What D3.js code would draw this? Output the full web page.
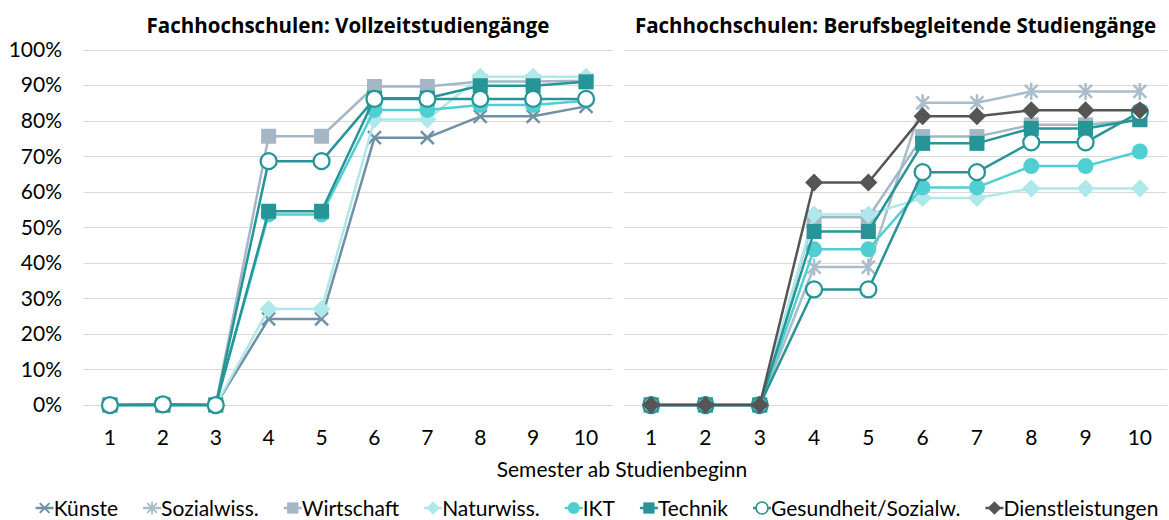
<!DOCTYPE html>
<html>
<head>
<meta charset="utf-8">
<script src="https://d3js.org/d3.v7.min.js"></script>
<style>
	body{ margin:0; background:#fff; }
	text{ font-family: Lato, "Open Sans", sans-serif; fill:#000; }
	.grid line{ stroke:#d9d9d9; stroke-width:1; }
	.title{ font-family: "Open Sans", Lato, sans-serif; font-weight:bold; font-size:20.5px; }
	.tick-label{ font-size:21px; }
</style>
</head>
<body>
<svg id="chart" width="1169" height="520"></svg>
<script>

// categories
var semesters = [1, 2, 3, 4, 5, 6, 7, 8, 9, 10];
var yTicks = [0, 0.1, 0.2, 0.3, 0.4, 0.5, 0.6, 0.7, 0.8, 0.9, 1];

// series (legend order = draw order)
var seriesNames  = ["Künste", "Sozialwiss.", "Wirtschaft", "Naturwiss.", "IKT", "Technik", "Gesundheit/Sozialw.", "Dienstleistungen"];
var seriesColors = ["#7090a6", "#a9bdcb", "#a3b7c7", "#aee8ea", "#4fcfd2", "#279597", "#279597", "#555555"];
var seriesMarks  = ["x", "star", "square", "diamond", "circle", "square", "ocircle", "diamond"];

// Vollzeitstudiengänge (percent)
var kuensteVZ    = [0, 0, 0, 24.2, 24.2, 75.2, 75.2, 81.2, 81.2, 84.0];
var sozialVZ     = null;
var wirtschaftVZ = [0, 0, 0, 75.6, 75.6, 89.6, 89.6, 91.0, 91.0, 91.2];
var naturVZ      = [0, 0, 0, 27.0, 27.0, 80.3, 80.3, 92.3, 92.3, 92.3];
var iktVZ        = [0, 0, 0, 53.6, 53.6, 83.0, 83.0, 84.4, 84.4, 85.6];
var technikVZ    = [0, 0, 0, 54.5, 54.5, 86.3, 86.3, 89.8, 89.8, 90.9];
var gesundVZ     = [0, 0.2, 0, 68.6, 68.6, 86.1, 86.1, 86.1, 86.1, 86.1];
var dienstVZ     = null;

// Berufsbegleitende Studiengänge (percent)
var kuensteBB    = null;
var sozialBB     = [0, 0, 0, 38.8, 38.8, 85.0, 85.0, 88.2, 88.2, 88.2];
var wirtschaftBB = [0, 0, 0, 52.8, 52.8, 75.5, 75.5, 78.8, 78.8, 80.2];
var naturBB      = [0, 0, 0, 53.6, 53.6, 58.2, 58.2, 60.9, 60.9, 60.9];
var iktBB        = [0, 0, 0, 43.8, 43.8, 61.2, 61.2, 67.2, 67.2, 71.3];
var technikBB    = [0, 0, 0, 48.8, 48.8, 73.6, 73.6, 77.8, 77.8, 80.3];
var gesundBB     = [0, 0, 0, 32.5, 32.5, 65.5, 65.5, 73.9, 73.9, 82.4];
var dienstBB     = [0, 0, 0, 62.6, 62.6, 81.2, 81.2, 82.9, 82.9, 82.9];

var panels = [
	{ title: "Fachhochschulen: Vollzeitstudiengänge", x0: 83.5, x1: 612.5, yLabels: true,
	  data: [kuensteVZ, sozialVZ, wirtschaftVZ, naturVZ, iktVZ, technikVZ, gesundVZ, dienstVZ] },
	{ title: "Fachhochschulen: Berufsbegleitende Studiengänge", x0: 624, x1: 1167, yLabels: false,
	  data: [kuensteBB, sozialBB, wirtschaftBB, naturBB, iktBB, technikBB, gesundBB, dienstBB] }
];

var svg = d3.select("#chart");

var y = d3.scaleLinear().domain([0, 1]).range([405, 49.5]);

function drawMarker(g, type, color, cx, cy) {
	var m = g.append("g").attr("transform", "translate(" + cx + "," + cy + ")");
	if (type == "x") {
		m.append("path").attr("d", "M-6.5,-6.5L6.5,6.5M-6.5,6.5L6.5,-6.5")
			.attr("stroke", color).attr("stroke-width", 2.5).attr("fill", "none");
	} else if (type == "star") {
		m.append("path").attr("d", "M-6.5,-6.5L6.5,6.5M-6.5,6.5L6.5,-6.5M0,-8.5L0,8.5")
			.attr("stroke", color).attr("stroke-width", 2.5).attr("fill", "none");
	} else if (type == "square") {
		m.append("rect").attr("x", -7.5).attr("y", -7.5).attr("width", 15).attr("height", 15)
			.attr("fill", color);
	} else if (type == "diamond") {
		m.append("path").attr("d", "M0,-9L9,0L0,9L-9,0Z").attr("fill", color);
	} else if (type == "circle") {
		m.append("circle").attr("r", 8).attr("fill", color);
	} else if (type == "ocircle") {
		m.append("circle").attr("r", 8).attr("fill", "#fff")
			.attr("stroke", color).attr("stroke-width", 2.25);
	}
}

panels.forEach(function(p) {
	var x = d3.scalePoint().domain(semesters).range([p.x0, p.x1]).padding(0.5);
	var g = svg.append("g");

	// gridlines
	g.append("g").attr("class", "grid")
		.selectAll("line").data(yTicks).enter().append("line")
		.attr("x1", p.x0).attr("x2", p.x1)
		.attr("y1", function(d){ return Math.round(y(d)) + 0.5; })
		.attr("y2", function(d){ return Math.round(y(d)) + 0.5; });

	if (p.yLabels) {
		g.selectAll("text.ylab").data(yTicks).enter().append("text")
			.attr("class", "tick-label ylab")
			.attr("x", 62).attr("y", function(d){ return y(d); })
			.attr("dy", "0.35em").attr("text-anchor", "end")
			.text(d3.format(".0%"));
	}

	g.selectAll("text.xlab").data(semesters).enter().append("text")
		.attr("class", "tick-label xlab")
		.attr("x", function(d){ return x(d); }).attr("y", 445)
		.attr("text-anchor", "middle")
		.text(function(d){ return d; });

	g.append("text").attr("class", "title")
		.attr("x", (p.x0 + p.x1) / 2).attr("y", 32.5)
		.attr("text-anchor", "middle").text(p.title);

	var line = d3.line()
		.x(function(d, i){ return x(semesters[i]); })
		.y(function(d){ return y(d / 100); });

	p.data.forEach(function(vals, s) {
		if (!vals) return;
		var sg = g.append("g");
		sg.append("path").attr("d", line(vals))
			.attr("fill", "none").attr("stroke", seriesColors[s])
			.attr("stroke-width", 2.5).attr("stroke-linejoin", "round");
		vals.forEach(function(v, i) {
			drawMarker(sg, seriesMarks[s], seriesColors[s], x(semesters[i]), y(v / 100));
		});
	});
});

// axis title
svg.append("text").attr("class", "tick-label")
	.attr("x", 622).attr("y", 477).attr("text-anchor", "middle")
	.text("Semester ab Studienbeginn");

// legend
var legend = svg.append("g");
var items = legend.selectAll("g.item").data(seriesNames).enter().append("g").attr("class", "item");
items.append("text").attr("class", "tick-label").attr("y", 515.5).text(function(d){ return d; });

var pos = 0, offsets = [];
items.each(function(d, i) {
	var w = this.querySelector("text").getComputedTextLength();
	offsets.push(pos);
	pos += 9 + w + 34;
});
var total = pos - 34 + 9;
var start = 597 - total / 2 + 9;

items.each(function(d, i) {
	var it = d3.select(this);
	var mx = start + offsets[i];
	it.select("text").attr("x", mx + 9);
	it.insert("line", "text").attr("x1", mx - 9).attr("x2", mx + 9)
		.attr("y1", 508).attr("y2", 508)
		.attr("stroke", seriesColors[i]).attr("stroke-width", 2.5);
	drawMarker(it, seriesMarks[i], seriesColors[i], mx, 508);
});
items.selectAll("g").attr("transform", function() {
	return d3.select(this).attr("transform") + " scale(0.75)";
});

</script>
</body>
</html>
